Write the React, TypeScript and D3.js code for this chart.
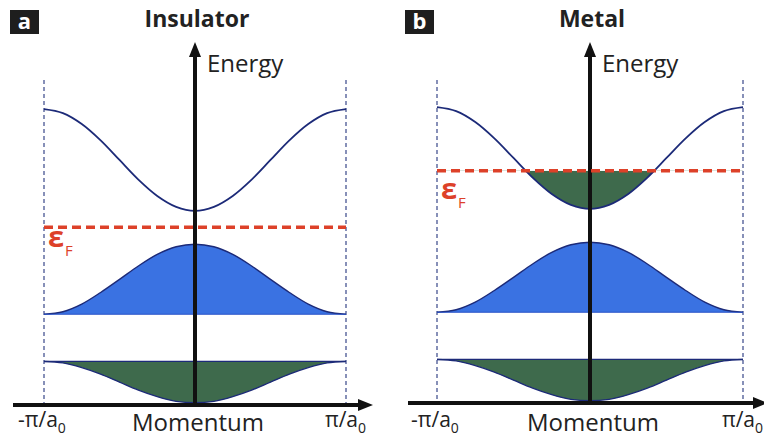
import React from 'react'
import * as d3 from 'd3'

// momentum samples (in units of pi/a0) and band energies (arbitrary units)
const momentum = [-1, -0.875, -0.75, -0.625, -0.5, -0.375, -0.25, -0.125, 0,
  0.125, 0.25, 0.375, 0.5, 0.625, 0.75, 0.875, 1]
const conductionBand = [81.5, 80.4, 77.4, 72.9, 67.5, 62.1, 57.6, 54.6, 53.5,
  54.6, 57.6, 62.1, 67.5, 72.9, 77.4, 80.4, 81.5]
const valenceBand = [25, 25.7, 27.8, 31.0, 34.6, 38.3, 41.5, 43.6, 44.3,
  43.6, 41.5, 38.3, 34.6, 31.0, 27.8, 25.7, 25]
const valenceBase = 25
const lowerBand = [12, 11.6, 10.3, 8.5, 6.3, 4.1, 2.3, 1.0, 0.6,
  1.0, 2.3, 4.1, 6.3, 8.5, 10.3, 11.6, 12]
const lowerTop = 12

const panels = [
  { key: 'a', title: 'Insulator', fermi: 49, cx: 195, half: 151, axisY: 405, epsDy: 20 },
  { key: 'b', title: 'Metal', fermi: 64, cx: 590, half: 153, axisY: 403, epsDy: 28 },
]

const BLUE = '#3a72e2'
const GREEN = '#3e6a4c'
const NAVY = '#1c2a78'
const RED = '#dd4129'
const FONT = "'Open Sans', 'Noto Sans', sans-serif"

const Panel = ({ p }: { p: typeof panels[number] }) => {
  const x = d3.scaleLinear().domain([-1, 1]).range([p.cx - p.half, p.cx + p.half])
  const y = d3.scaleLinear().domain([0, 100]).range([p.axisY, p.axisY - 363])
  const pts = (vals: number[]) => momentum.map((k, i) => [k, vals[i]] as [number, number])

  const line = d3.line<[number, number]>().x(d => x(d[0])).y(d => y(d[1])).curve(d3.curveCatmullRom)
  const area = (base: number) =>
    d3.area<[number, number]>().x(d => x(d[0])).y0(y(base)).y1(d => y(d[1])).curve(d3.curveCatmullRom)

  const left = x(-1)
  const right = x(1)
  const fy = y(p.fermi)
  const clipId = `below-${p.key}`
  const isMetal = p.fermi > d3.min(conductionBand)!

  return (
    <g>
      <defs>
        <clipPath id={clipId}>
          <rect x={left} y={fy} width={right - left} height={p.axisY - fy} />
        </clipPath>
      </defs>

      {/* zone boundaries */}
      {[left, right].map((xx, i) => (
        <line key={i} x1={xx} x2={xx} y1={80} y2={p.axisY} stroke="#8790b8" strokeWidth={2} strokeDasharray="4,3" />
      ))}

      {/* filled bands */}
      <path d={area(lowerTop)(pts(lowerBand))!} fill={GREEN} />
      <path d={area(valenceBase)(pts(valenceBand))!} fill={BLUE} />
      {isMetal && <path d={area(p.fermi)(pts(conductionBand))!} fill={GREEN} clipPath={`url(#${clipId})`} />}

      {/* band outlines */}
      <path d={line(pts(conductionBand))!} fill="none" stroke={NAVY} strokeWidth={1.8} />
      <path d={line(pts(valenceBand))!} fill="none" stroke={NAVY} strokeWidth={1.4} />
      <line x1={left} x2={right} y1={y(valenceBase)} y2={y(valenceBase)} stroke="#2b55c8" strokeWidth={1.2} />
      <path d={line(pts(lowerBand))!} fill="none" stroke={NAVY} strokeWidth={1.4} />
      <line x1={left} x2={right} y1={y(lowerTop)} y2={y(lowerTop)} stroke={NAVY} strokeWidth={1.2} />

      {/* axes */}
      <line x1={p.cx} x2={p.cx} y1={p.axisY} y2={56} stroke="#111" strokeWidth={4} />
      <path d={`M${p.cx - 6},${57} L${p.cx},${42} L${p.cx + 6},${57} Z`} fill="#111" />
      <line x1={p.cx - 182} x2={p.cx + 165} y1={p.axisY} y2={p.axisY} stroke="#111" strokeWidth={4} />
      <path d={`M${p.cx + 163},${p.axisY - 6} L${p.cx + 178},${p.axisY} L${p.cx + 163},${p.axisY + 6} Z`} fill="#111" />

      {/* Fermi level */}
      <line x1={left} x2={right} y1={fy} y2={fy} stroke={RED} strokeWidth={3.5} strokeDasharray="9,5" />
      <text x={left + 4} y={fy + p.epsDy} fill={RED} fontFamily={FONT} fontWeight="bold" fontSize={29}>ε</text>
      <text x={left + 21} y={fy + p.epsDy + 9} fill={RED} fontFamily={FONT} fontSize={15}>F</text>

      {/* labels */}
      <text x={p.cx + 12} y={72} fontFamily={FONT} fontSize={24} fill="#222">Energy</text>
      <text x={p.cx + 3} y={431} textAnchor="middle" fontFamily={FONT} fontSize={24} fill="#222">Momentum</text>
      <text x={left - 26} y={427} fontFamily={FONT} fontSize={21} fill="#222">
        -π/a<tspan fontSize={14} dy={6}>0</tspan>
      </text>
      <text x={right - 21} y={427} fontFamily={FONT} fontSize={21} fill="#222">
        π/a<tspan fontSize={14} dy={6}>0</tspan>
      </text>

      {/* title and panel letter */}
      <text x={p.cx + 2} y={27} textAnchor="middle" fontFamily={FONT} fontWeight="bold" fontSize={23} fill="#222">{p.title}</text>
      <rect x={p.cx - 185} y={10} width={29} height={24} fill="#1e1e1e" />
      <text x={p.cx - 170.5} y={29} textAnchor="middle" fontFamily={FONT} fontWeight="bold" fontSize={22} fill="#fff">{p.key}</text>
    </g>
  )
}

const App = () => (
  <svg width={764} height={437} style={{ position: 'absolute', left: 0, top: 0, background: '#fff' }}>
    {panels.map(p => <Panel key={p.key} p={p} />)}
  </svg>
)

export default App
